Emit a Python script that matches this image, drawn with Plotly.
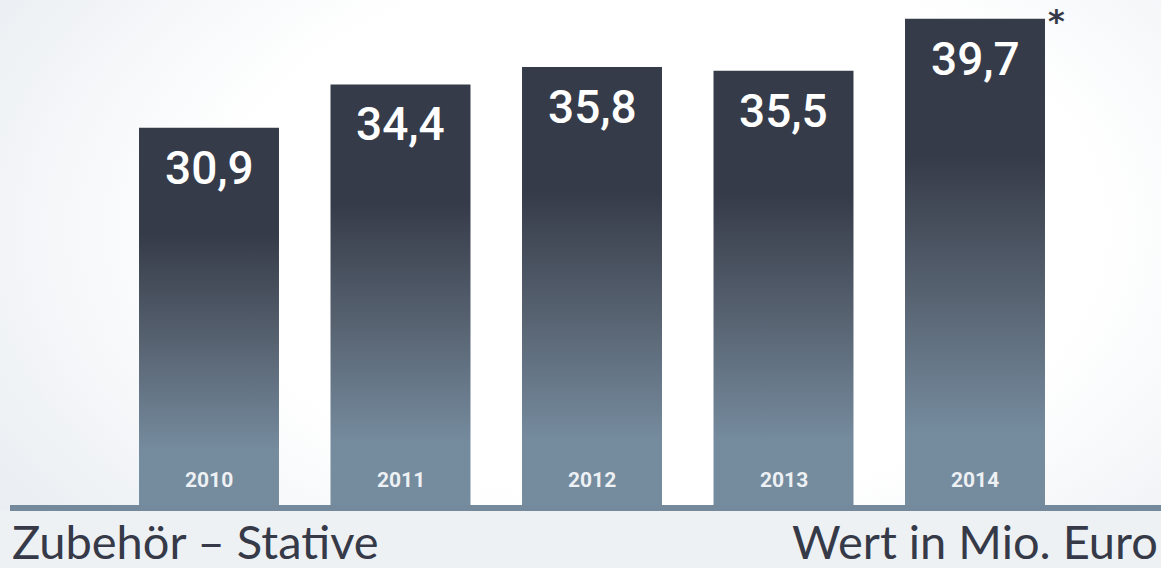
import plotly.graph_objects as go

# ---- data ----
years = ["2010", "2011", "2012", "2013", "2014"]
values = [30.9, 34.4, 35.8, 35.5, 39.7]
value_labels = ["30,9", "34,4", "35,8", "35,5", "39,7"]
title_left = "Zubehör – Stative"
title_right = "Wert in Mio. Euro"
footnote_mark = "*"
footnote_year = "2014"

# ---- style ----
W, H = 1161, 568
DARK = "#363b49"
LIGHT = "#758b9e"
TEXT_DARK = "#363a48"
BAR_W = 0.731
PX_PER_CAT = 191.5
FIRST_CENTER_PX = 209
PLOT_BOTTOM_PX = 511
PX_PER_UNIT = 12.4

x_range = [-FIRST_CENTER_PX / PX_PER_CAT, (W - FIRST_CENTER_PX) / PX_PER_CAT]
y_range = [0, PLOT_BOTTOM_PX / PX_PER_UNIT]

# gradient from bottom (0) to top (1) of each bar
bar_scale = [
    [0.0, LIGHT],
    [0.16, LIGHT],
    [0.45, "#56616f"],
    [0.72, DARK],
    [1.0, DARK],
]

fig = go.Figure()

# soft radial background glow
cx = (660 - FIRST_CENTER_PX) / PX_PER_CAT
cy = (PLOT_BOTTOM_PX - 230) / PX_PER_UNIT
rx = 760 / PX_PER_CAT
ry = 470 / PX_PER_UNIT
fig.add_trace(go.Scatter(
    x=[cx - rx, cx + rx, cx + rx, cx - rx, cx - rx],
    y=[cy - ry, cy - ry, cy + ry, cy + ry, cy - ry],
    mode="lines", line=dict(width=0), fill="toself",
    fillgradient=dict(type="radial", colorscale=[[0, "#ffffff"], [0.58, "#ffffff"], [0.8, "#f5f7f9"], [1, "#ebeff3"]]),
    hoverinfo="skip", showlegend=False,
))

for i, (yr, v) in enumerate(zip(years, values)):
    x0, x1 = i - BAR_W / 2, i + BAR_W / 2
    fig.add_trace(go.Scatter(
        x=[x0, x1, x1, x0, x0], y=[0, 0, v, v, 0],
        mode="lines", line=dict(width=0), fill="toself",
        fillgradient=dict(type="vertical", colorscale=bar_scale, start=0, stop=v),
        hoverinfo="skip", showlegend=False, name=yr,
    ))

annotations = []
for i, (yr, v, lab) in enumerate(zip(years, values, value_labels)):
    annotations.append(dict(
        x=i, y=v, xref="x", yref="y", text=lab, showarrow=False,
        xanchor="center", yanchor="middle", yshift=-40,
        font=dict(family="Roboto", size=46, color="white", weight=500),
    ))
    annotations.append(dict(
        x=i, y=0, xref="x", yref="y", text=f"<b>{yr}</b>", showarrow=False,
        xanchor="center", yanchor="middle", yshift=31,
        font=dict(family="Roboto", size=21, color="#eef1f4"),
    ))
    if yr == footnote_year:
        annotations.append(dict(
            x=i + BAR_W / 2, y=1, xref="x", yref="paper", text=f"<b>{footnote_mark}</b>", showarrow=False,
            xanchor="left", yanchor="top", xshift=1, yshift=0,
            font=dict(family="DejaVu Sans", size=32, color=TEXT_DARK),
        ))

bottom_y = -(541 - PLOT_BOTTOM_PX) / PLOT_BOTTOM_PX
annotations.append(dict(
    x=0, y=bottom_y, xref="paper", yref="paper", text=title_left, showarrow=False,
    xanchor="left", yanchor="middle", xshift=10,
    font=dict(family="Lato", size=47, color=TEXT_DARK),
))
annotations.append(dict(
    x=1, y=bottom_y, xref="paper", yref="paper", text=title_right, showarrow=False,
    xanchor="right", yanchor="middle", xshift=-1,
    font=dict(family="Lato", size=47, color=TEXT_DARK),
))

shapes = [dict(
    type="rect", xref="paper", yref="paper",
    x0=10 / W, x1=1.0, y0=0, y1=6 / PLOT_BOTTOM_PX,
    fillcolor="#748a9c", line=dict(width=0), layer="above",
)]

fig.update_layout(
    width=W, height=H,
    margin=dict(l=0, r=0, t=0, b=H - PLOT_BOTTOM_PX, pad=0),
    paper_bgcolor="#eef1f4", plot_bgcolor="#eef1f4",
    xaxis=dict(range=x_range, visible=False, fixedrange=True),
    yaxis=dict(range=y_range, visible=False, fixedrange=True),
    annotations=annotations, shapes=shapes,
    showlegend=False,
)

fig.write_html(
    "out.html",
    config={"displayModeBar": False},
    post_script="document.body.style.margin='0';document.body.style.overflow='hidden';",
)
